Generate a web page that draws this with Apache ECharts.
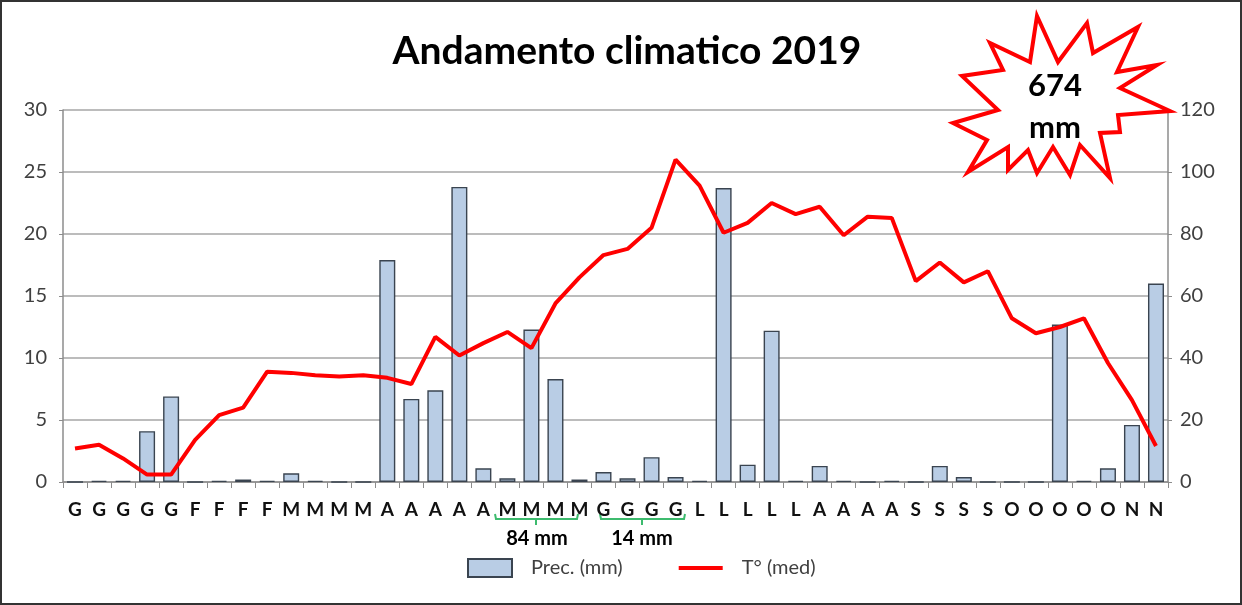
<!DOCTYPE html>
<html>
<head>
    <meta charset="utf-8">
    <title>Andamento climatico 2019</title>
    <script src="https://cdn.jsdelivr.net/npm/echarts@6/dist/echarts.min.js"></script>
    <style>
        html, body { margin: 0; padding: 0; background: #fff; }
        #chartmain { width: 1242px; height: 605px; }
    </style>
</head>
<body>
<div id="chartmain"></div>
<script type="text/javascript">
    // categorie (iniziali dei mesi)
    var mesi = ['G','G','G','G','G','F','F','F','F','M','M','M','M','A','A','A','A','A',
        'M','M','M','M','G','G','G','G','L','L','L','L','L','A','A','A','A',
        'S','S','S','S','O','O','O','O','O','N','N'];
    // precipitazioni (mm) - asse destro
    var prec = [0, 0.4, 0.4, 16.4, 27.6, 0, 0.4, 0.8, 0.4, 2.8, 0.4, 0, 0,
        71.6, 26.8, 29.6, 95.2, 4.4, 1.2, 49.2, 33.2, 0.8, 3.2, 1.2, 8, 1.6,
        0.4, 94.8, 5.6, 48.8, 0.4, 5.2, 0.4, 0, 0.4, 0, 5.2, 1.6, 0, 0, 0,
        50.8, 0.4, 4.4, 18.4, 64];
    // temperatura media - asse sinistro
    var temp = [2.7, 3.0, 1.9, 0.6, 0.6, 3.4, 5.4, 6.0, 8.9, 8.8, 8.6, 8.5, 8.6,
        8.4, 7.9, 11.7, 10.2, 11.2, 12.1, 10.8, 14.4, 16.5, 18.3, 18.8, 20.5,
        26.0, 23.9, 20.1, 20.9, 22.5, 21.6, 22.2, 19.9, 21.4, 21.3, 16.2, 17.7,
        16.1, 17.0, 13.2, 12.0, 12.5, 13.2, 9.6, 6.6, 2.9];
    var totale = '674';

    var myChart = echarts.init(document.getElementById('chartmain'));

    // stella (punti in pixel)
    var stella = [[1037,16],[1058,62],[1087,23],[1093,53],[1138,27],[1117,72],[1157,65],
        [1120,88],[1170,111],[1118,115],[1120,132],[1100,133],[1110,178],[1080,145],
        [1070,175],[1053,147],[1037,173],[1028,150],[1008,170],[1008,147],[968,172],
        [987,140],[953,123],[998,110],[962,76],[1003,70],[990,43],[1030,62]];

    var verde = '#3dbb6e';

    myChart.setOption({
        animation: false,
        title: {
            text: 'Andamento climatico 2019',
            left: 622,
            textAlign: 'center',
            top: 27,
            textStyle: { fontFamily: 'Lato', fontWeight: 'bold', fontSize: 39, color: '#000' }
        },
        legend: {
            left: 462,
            top: 553,
            itemGap: 54,
            itemWidth: 44,
            itemHeight: 18,
            textStyle: { fontFamily: 'Lato', fontSize: 20, color: '#404040', padding: [0, 0, 0, 14] },
            data: [
                { name: 'Prec. (mm)', icon: 'rect' },
                {
                    name: 'T° (med)',
                    itemStyle: { color: 'rgba(0,0,0,0)', borderWidth: 0, opacity: 0 },
                    lineStyle: { width: 4, color: '#ff0000' }
                }
            ]
        },
        grid: { left: 63, right: 74, top: 110, bottom: 123 },
        xAxis: {
            type: 'category',
            data: mesi,
            boundaryGap: true,
            axisLine: { lineStyle: { color: '#8c8c8c', width: 1.5 } },
            axisTick: { show: true, interval: 0, length: 6, lineStyle: { color: '#8c8c8c' } },
            axisLabel: {
                interval: 0, margin: 18,
                fontFamily: 'Lato', fontWeight: 'bold', fontSize: 19, color: '#111'
            }
        },
        yAxis: [{
            type: 'value', min: 0, max: 30, interval: 5,
            axisLine: { show: true, lineStyle: { color: '#8c8c8c', width: 1.5 } },
            axisTick: { show: true, length: 4, lineStyle: { color: '#8c8c8c' } },
            splitLine: { lineStyle: { color: '#a6a6a6', width: 1.5 } },
            axisLabel: { fontFamily: 'Lato', fontSize: 20, color: '#404040', margin: 16 }
        }, {
            type: 'value', min: 0, max: 120, interval: 20,
            position: 'right',
            axisLine: { show: true, lineStyle: { color: '#8c8c8c', width: 1.5 } },
            axisTick: { show: true, length: 4, lineStyle: { color: '#8c8c8c' } },
            splitLine: { show: false },
            axisLabel: { fontFamily: 'Lato', fontSize: 20, color: '#404040', margin: 12 }
        }],
        series: [{
            name: 'Prec. (mm)',
            type: 'bar',
            yAxisIndex: 1,
            barWidth: 16,
            itemStyle: { color: '#b9cde5', borderColor: '#3a4450', borderWidth: 1.4 },
            data: prec
        }, {
            name: 'T° (med)',
            type: 'line',
            yAxisIndex: 0,
            symbol: 'none',
            smooth: false,
            lineStyle: { color: '#ff0000', width: 4 },
            itemStyle: { color: '#ff0000' },
            data: temp,
            z: 5
        }],
        graphic: [
            // cornice
            { type: 'rect', shape: { x: 1, y: 1, width: 1240, height: 603 },
              style: { fill: 'none', stroke: '#333', lineWidth: 2 }, silent: true },
            // stella
            { type: 'polygon', shape: { points: stella }, z: 20,
              style: { fill: '#fff', stroke: '#ff0000', lineWidth: 4 } },
            { type: 'text', x: 1055, y: 86, z: 21,
              style: { text: totale, fill: '#000', font: 'bold 31px Lato', textAlign: 'center', textVerticalAlign: 'middle' } },
            { type: 'text', x: 1055, y: 128, z: 21,
              style: { text: 'mm', fill: '#000', font: 'bold 31px Lato', textAlign: 'center', textVerticalAlign: 'middle' } },
            // parentesi verdi
            { type: 'polyline', shape: { points: [[495, 514], [496, 519], [577, 519], [578, 514]] },
              style: { stroke: verde, lineWidth: 2, fill: 'none' } },
            { type: 'line', shape: { x1: 536, y1: 519, x2: 536, y2: 525 }, style: { stroke: verde, lineWidth: 2 } },
            { type: 'polyline', shape: { points: [[600, 514], [601, 519], [684, 519], [685, 514]] },
              style: { stroke: verde, lineWidth: 2, fill: 'none' } },
            { type: 'line', shape: { x1: 642, y1: 519, x2: 642, y2: 525 }, style: { stroke: verde, lineWidth: 2 } },
            { type: 'text', x: 537, y: 539,
              style: { text: '84 mm', fill: '#000', font: 'bold 20px Lato', textAlign: 'center', textVerticalAlign: 'middle' } },
            { type: 'text', x: 642, y: 539,
              style: { text: '14 mm', fill: '#000', font: 'bold 20px Lato', textAlign: 'center', textVerticalAlign: 'middle' } }
        ]
    });
</script>
</body>
</html>
